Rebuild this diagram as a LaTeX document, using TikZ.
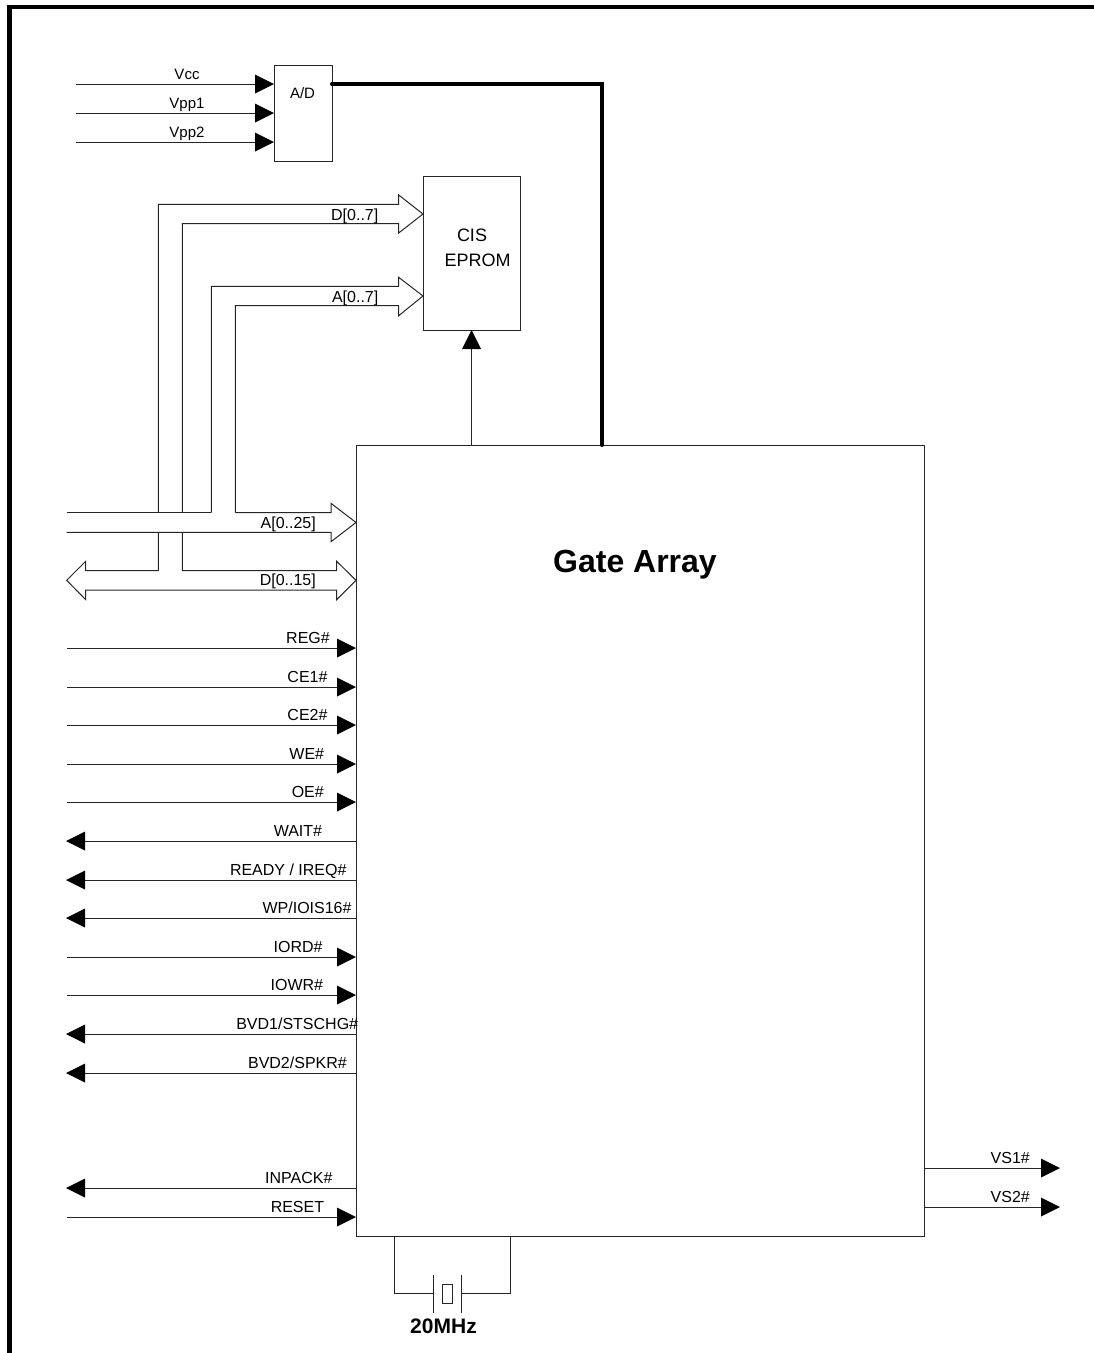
\documentclass[tikz,border=0pt]{standalone}
\usepackage{fontspec}
\setmainfont{Liberation Sans}
\begin{document}
\begin{tikzpicture}[x=1pt,y=-1pt,
  thin line/.style={draw=black!85,line width=1pt},
  box/.style={draw=black!85,line width=1pt,fill=none,inner sep=0pt},
  lab/.style={font=\fontsize{16}{16}\selectfont,inner sep=0pt,anchor=base east},
  powerlab/.style={font=\fontsize{15}{15}\selectfont,anchor=base,inner sep=0pt}]
\useasboundingbox (0,0) rectangle (1094,1353);
\newcommand{\hd}[2]{\fill[black] (#1,#2) -- ++(-19,-9.5) -- ++(0,19) -- cycle;}
\newcommand{\hl}[2]{\fill[black] (#1,#2) -- ++(19,-9.5) -- ++(0,19) -- cycle;}
% frame
\draw[line width=4.5pt] (9.5,1353) -- (9.5,7) -- (1094,7);
% boxes
\node[box,minimum width=58pt,minimum height=96pt] (ad) at (303,113) {};
\node[font=\fontsize{15}{15}\selectfont,inner sep=0pt] (adl) at (302.5,93) {A/D};
\node[box,minimum width=97pt,minimum height=154pt] (cis) at (471.5,253) {};
\node[font=\fontsize{18}{18}\selectfont] (cisl) at (472,235) {CIS};
\node[font=\fontsize{18}{18}\selectfont] (epl) at (477.5,260) {EPROM};
\node[box,minimum width=568pt,minimum height=791pt] (ga) at (640,840.5) {};
\node[font=\bfseries\fontsize{32}{32}\selectfont] (gal) at (635,565) {Gate Array};
% power
\foreach \y/\t in {84/Vcc,113/Vpp1,142/Vpp2}{
  \draw[thin line] (76,\y) -- (256,\y);
  \hd{274}{\y}
  \node[powerlab] at (187,\y-5) {\t};
}
% thick
\draw[line width=4pt,line cap=round,line join=miter] (332,84) -- (602,84) -- (602,445);
% CIS control arrow
\draw[thin line] (471.5,445) -- (471.5,349);
\fill[black] (471.5,330) -- (462,349) -- (481,349) -- cycle;
% buses
\draw[thin line,line join=miter] (158.3,512.7) -- (158.3,204.3) -- (398.7,204.3) -- (398.7,195) -- (423,214) -- (398.7,233) -- (398.7,223.7) -- (182.3,223.7) -- (182.3,512.7);
\draw[thin line,line join=miter] (211.3,512.7) -- (211.3,286.3) -- (398.7,286.3) -- (398.7,277.3) -- (423,296) -- (398.7,315.7) -- (398.7,305.7) -- (235.3,305.7) -- (235.3,512.7);
\draw[thin line,line join=miter] (66.7,512.7) -- (211.3,512.7);
\draw[thin line,line join=miter] (235.3,512.7) -- (331,512.7) -- (331,503.3) -- (356,522.5) -- (331,541.7) -- (331,532.3) -- (66.7,532.3);
\draw[thin line,line join=miter] (158.3,532.3) -- (158.3,570.7) -- (85.7,570.7) -- (85.7,561.3) -- (66.7,580.3) -- (85.7,599.7) -- (85.7,590) -- (336.7,590) -- (336.7,599.7) -- (356,580.3) -- (336.7,561.3) -- (336.7,570.7) -- (182.3,570.7) -- (182.3,532.3);
\node[lab] at (378.5,220) {D[0..7]};
\node[lab] at (378.5,302) {A[0..7]};
\node[lab] at (316,528.3) {A[0..25]};
\node[lab] at (316,585.7) {D[0..15]};
% inputs
\foreach \y/\t/\e in {648/REG\#/330,687/CE1\#/327.7,725/CE2\#/327.7,764/WE\#/324.3,802/OE\#/324,957/IORD\#/322.7,995/IOWR\#/323.3,1217/RESET/324.3}{
  \draw[thin line] (67,\y) -- (338,\y);
  \hd{356}{\y}
  \node[lab] at (\e,\y-5) {\t};
}
% outputs
\foreach \y/\t/\e in {841/{WAIT\#}/322.3,880/{READY / IREQ\#}/346.7,918/{WP/IOIS16\#}/351.7,1034/{BVD1/STSCHG\#}/358.3,1073/{BVD2/SPKR\#}/347,1188/{INPACK\#}/332.7}{
  \draw[thin line] (356,\y) -- (85,\y);
  \hl{66}{\y}
  \node[lab] at (\e,\y-5) {\t};
}
% right outputs
\foreach \y/\t in {1168/VS1\#,1207/VS2\#}{
  \draw[thin line] (924,\y) -- (1041,\y);
  \hd{1060}{\y}
  \node[lab] at (1030,\y-5) {\t};
}
% crystal
\draw[thin line] (394.3,1236) -- (394.3,1293.7) -- (433,1293.7);
\draw[thin line] (510,1236) -- (510,1293.7) -- (461.7,1293.7);
\draw[thin line] (433,1275) -- (433,1312.7);
\draw[thin line] (461.7,1275) -- (461.7,1312.7);
\node[box,minimum width=10.4pt,minimum height=19pt] (xt) at (447.5,1293.5) {};
\node[font=\bfseries\fontsize{21}{21}\selectfont] (xtl) at (443.5,1326) {20MHz};
\end{tikzpicture}
\end{document}
